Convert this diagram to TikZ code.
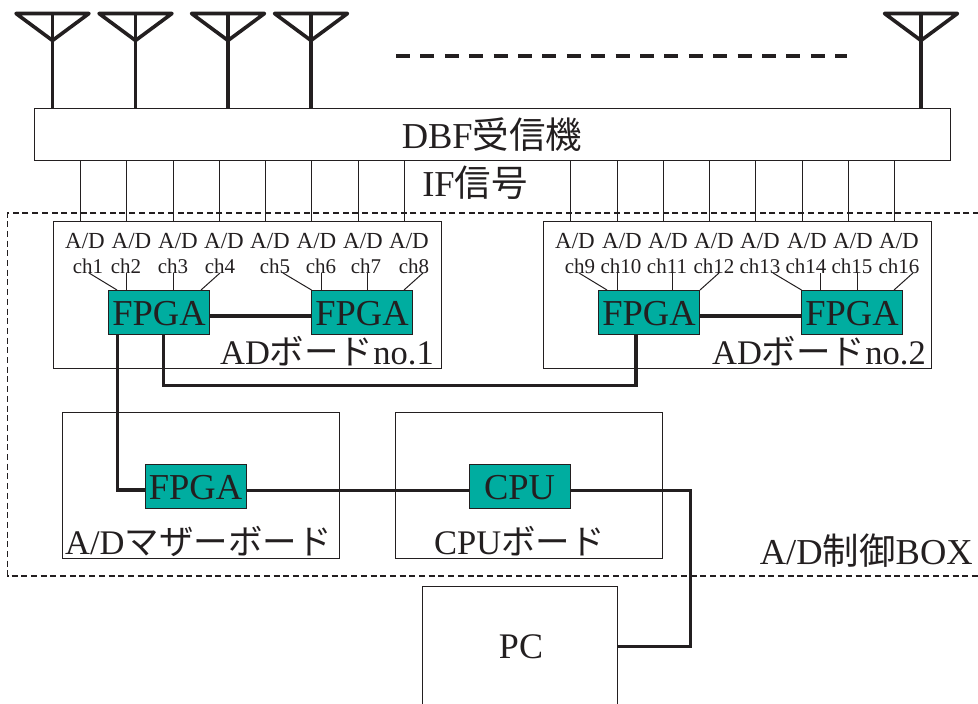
\documentclass[tikz,border=0pt]{standalone}
\usepackage{fontspec}
\setmainfont{Liberation Serif}
\newfontfamily\jp{Noto Sans CJK JP}
\definecolor{chipcol}{RGB}{0,173,160}
\definecolor{inkcol}{RGB}{35,31,32}
\newcommand{\fsz}[1]{\fontsize{#1}{#1}\selectfont}
\tikzset{
 thickline/.style={line width=3.6pt,draw=inkcol,line join=miter},
 medline/.style={line width=3pt,draw=inkcol,line join=miter},
 thinline/.style={line width=1pt,draw=inkcol},
 ant/.style={line width=3.6pt,draw=inkcol,line join=round,line cap=round},
 panel/.style={draw=inkcol,line width=1pt,fill=none,rectangle,inner sep=0pt,outer sep=0pt},
 chip/.style={draw=inkcol,line width=1pt,fill=chipcol,rectangle,inner sep=0pt,outer sep=0pt,minimum width=101pt,minimum height=44pt,text=inkcol,font=\fsz{36.5},text height=27pt,text depth=0pt},
 adlab/.style={inner sep=0pt,text=inkcol,font=\fsz{23}},
 chlab/.style={inner sep=0pt,text=inkcol,font=\fsz{21}},
 biglab/.style={inner sep=0pt,text=inkcol,font=\fsz{36.5}},
 boardlab/.style={inner sep=0pt,text=inkcol,font=\fsz{34.5}},
}
\begin{document}
\begin{tikzpicture}[x=1pt,y=-1pt]
\useasboundingbox (0,0) rectangle (978,704);
% receiver
\node[panel,minimum width=916pt,minimum height=52pt] (dbf) at (492,134) {};
\node[biglab] (dbft) at (492,135) {DBF{\jp 受信機}};
% antennas
\foreach \n/\x in {a/52.5,b/135.5,c/228,d/311,e/921}{
 \coordinate (tip\n) at (\x,40.5);
 \coordinate (foot\n) at (\x,108);
 \coordinate (tl\n) at (\x-36.5,13.5);
 \coordinate (tr\n) at (\x+36.5,13.5);
 \coordinate (tc\n) at (\x,13.5);
 \draw[ant] (tl\n) -- (tr\n) -- (tip\n) -- cycle;
 \draw[ant,line cap=butt] (tc\n) -- (foot\n);
}
\coordinate (dl) at (396,56);
\coordinate (dr) at (847,56);
\draw[line width=3.4pt,draw=inkcol,dash pattern=on 14pt off 10.4pt] (dl) -- (dr);
\node[biglab] (iflab) at (475,183) {IF{\jp 信号}};
% control box
\draw[line width=1.8pt,draw=inkcol,dash pattern=on 6pt off 3.7pt] (979,213) -- (7.5,213) -- (7.5,576) -- (979,576);
% boards
\node[panel,minimum width=388pt,minimum height=147pt] (b1) at (247,294.5) {};
\node[panel,minimum width=388pt,minimum height=147pt] (b2) at (737,294.5) {};
\node[panel,minimum width=277pt,minimum height=146pt] (mb) at (200.5,485) {};
\node[panel,minimum width=267pt,minimum height=146pt] (cb) at (528.5,485) {};
\node[panel,minimum width=195pt,minimum height=120pt] (pc) at (519.5,646) {};
\node[inner sep=0pt,text=inkcol,font=\fsz{36}] (pct) at (521,647) {PC};
% chips
\node[chip] (f1) at (159,312) {FPGA};
\node[chip] (f2) at (362,312) {FPGA};
\node[chip] (f3) at (649,312) {FPGA};
\node[chip] (f4) at (852,312) {FPGA};
\node[chip] (f5) at (195.5,486) {FPGA};
\node[chip] (f6) at (519.5,486) {CPU};
% A/D and channel labels
\foreach \i/\x/\cx in {1/80/88,2/126.5/126,3/173/173,4/219/220,5/265/275,6/311.5/321,7/358/366,8/404/414,9/570/580,10/617/621,11/663/667,12/709/714,13/755/760,14/802/806,15/848/852,16/894/899}{
 \node[adlab] (ad\i) at (\x+5,241) {A/D};
 \node[chlab] (ch\i) at (\cx,266) {ch\i};
 \coordinate (in\i) at (\x,221);
 \coordinate (rf\i) at (\x,160);
 \draw[thinline] (rf\i) -- (in\i);
}
% channel wires
\foreach \a/\b/\c/\d in {89/117/273/290,126.5/126.5/273/290,173/173/273/290,220/201/273/290,283/311.5/273/290,321/321/273/290,367/367/273/290,423/404/273/290,579/607/273/290,617/617/273/290,672/672/273/290,719/700/273/290,773/801.5/273/290,820/820/273/290,857/857/273/290,913/894/273/290}{
 \coordinate (ws) at (\a,\c);
 \coordinate (we) at (\b,\d);
 \draw[thinline] (ws) -- (we);
}
% labels
\node[boardlab,anchor=east] (l1) at (434,351) {AD{\jp ボード}no.1};
\node[boardlab,anchor=east] (l2) at (926,351) {AD{\jp ボード}no.2};
\node[boardlab,anchor=west] (l3) at (65,541) {A/D{\jp マザーボード}};
\node[boardlab,anchor=west] (l4) at (434,541) {CPU{\jp ボード}};
\node[biglab,anchor=east] (l5) at (973,551) {A/D{\jp 制御}BOX};
% thick connectors
\draw[thickline] (f1.east |- 0,316) -- (f2.west |- 0,316);
\draw[thickline] (f3.east |- 0,316) -- (f4.west |- 0,316);
\coordinate (v1) at (117.5,334);
\draw[thickline] (v1) -- (117.5,490) -- (f5.west |- 0,490);
\coordinate (v2) at (163.5,334);
\coordinate (v3) at (636,334);
\draw[thickline] (v2) -- (163.5,385.5) -- (636,385.5) -- (v3);
\draw[medline] (f5.east |- 0,490) -- (f6.west |- 0,490);
\draw[medline] (f6.east |- 0,490) -- (690.5,490) -- (690.5,646) -- (pc.east |- 0,646);
\end{tikzpicture}
\end{document}
